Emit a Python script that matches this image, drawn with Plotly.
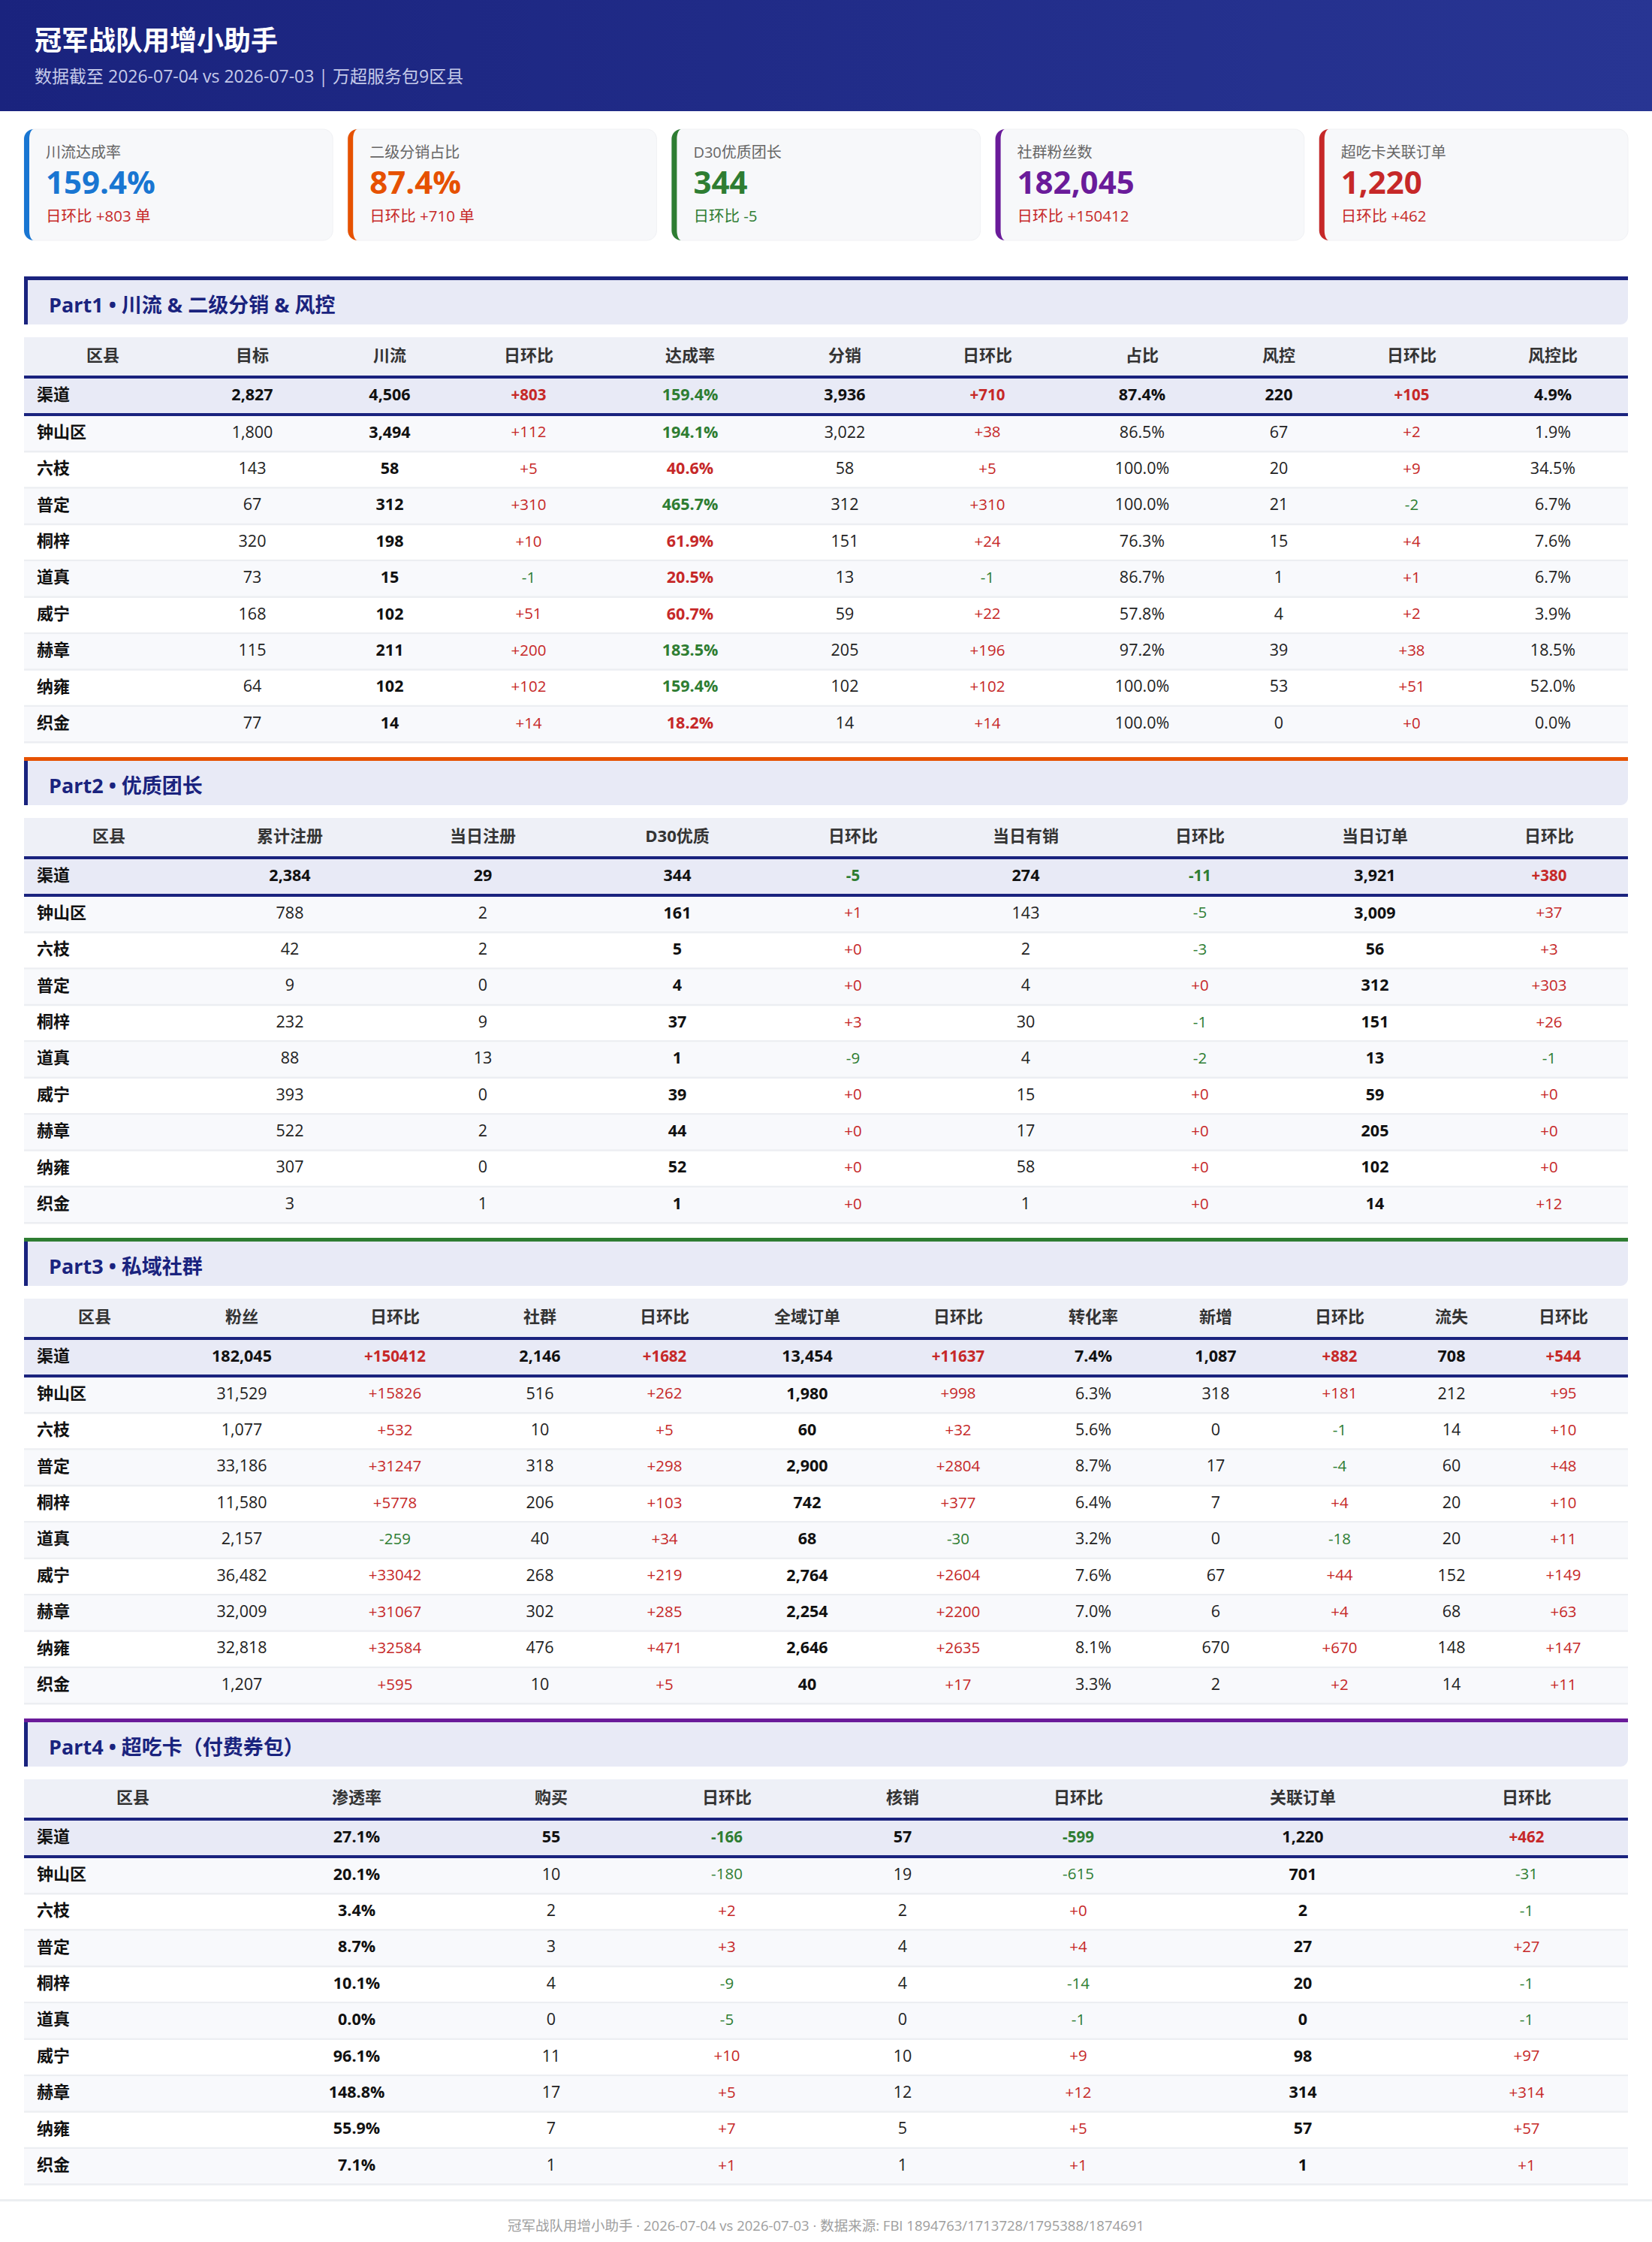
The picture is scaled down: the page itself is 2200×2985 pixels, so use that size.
import plotly.graph_objects as go

W, H = 2200, 2985

# ---------------- data ----------------
districts = ["钟山区", "六枝", "普定", "桐梓", "道真", "威宁", "赫章", "纳雍", "织金"]
total_label = "渠道"

# Part1
p1_target = [1800, 143, 67, 320, 73, 168, 115, 64, 77]
p1_target_total = 2827
p1_flow = [3494, 58, 312, 198, 15, 102, 211, 102, 14]
p1_flow_total = 4506
p1_flow_d = [112, 5, 310, 10, -1, 51, 200, 102, 14]
p1_flow_d_total = 803
p1_rate = [194.1, 40.6, 465.7, 61.9, 20.5, 60.7, 183.5, 159.4, 18.2]
p1_rate_total = 159.4
p1_dist = [3022, 58, 312, 151, 13, 59, 205, 102, 14]
p1_dist_total = 3936
p1_dist_d = [38, 5, 310, 24, -1, 22, 196, 102, 14]
p1_dist_d_total = 710
p1_share = [86.5, 100.0, 100.0, 76.3, 86.7, 57.8, 97.2, 100.0, 100.0]
p1_share_total = 87.4
p1_risk = [67, 20, 21, 15, 1, 4, 39, 53, 0]
p1_risk_total = 220
p1_risk_d = [2, 9, -2, 4, 1, 2, 38, 51, 0]
p1_risk_d_total = 105
p1_risk_ratio = [1.9, 34.5, 6.7, 7.6, 6.7, 3.9, 18.5, 52.0, 0.0]
p1_risk_ratio_total = 4.9

# Part2
p2_cum_reg = [788, 42, 9, 232, 88, 393, 522, 307, 3]
p2_cum_reg_total = 2384
p2_day_reg = [2, 2, 0, 9, 13, 0, 2, 0, 1]
p2_day_reg_total = 29
p2_d30 = [161, 5, 4, 37, 1, 39, 44, 52, 1]
p2_d30_total = 344
p2_d30_d = [1, 0, 0, 3, -9, 0, 0, 0, 0]
p2_d30_d_total = -5
p2_day_sale = [143, 2, 4, 30, 4, 15, 17, 58, 1]
p2_day_sale_total = 274
p2_day_sale_d = [-5, -3, 0, -1, -2, 0, 0, 0, 0]
p2_day_sale_d_total = -11
p2_orders = [3009, 56, 312, 151, 13, 59, 205, 102, 14]
p2_orders_total = 3921
p2_orders_d = [37, 3, 303, 26, -1, 0, 0, 0, 12]
p2_orders_d_total = 380

# Part3
p3_fans = [31529, 1077, 33186, 11580, 2157, 36482, 32009, 32818, 1207]
p3_fans_total = 182045
p3_fans_d = [15826, 532, 31247, 5778, -259, 33042, 31067, 32584, 595]
p3_fans_d_total = 150412
p3_groups = [516, 10, 318, 206, 40, 268, 302, 476, 10]
p3_groups_total = 2146
p3_groups_d = [262, 5, 298, 103, 34, 219, 285, 471, 5]
p3_groups_d_total = 1682
p3_orders = [1980, 60, 2900, 742, 68, 2764, 2254, 2646, 40]
p3_orders_total = 13454
p3_orders_d = [998, 32, 2804, 377, -30, 2604, 2200, 2635, 17]
p3_orders_d_total = 11637
p3_conv = [6.3, 5.6, 8.7, 6.4, 3.2, 7.6, 7.0, 8.1, 3.3]
p3_conv_total = 7.4
p3_new = [318, 0, 17, 7, 0, 67, 6, 670, 2]
p3_new_total = 1087
p3_new_d = [181, -1, -4, 4, -18, 44, 4, 670, 2]
p3_new_d_total = 882
p3_lost = [212, 14, 60, 20, 20, 152, 68, 148, 14]
p3_lost_total = 708
p3_lost_d = [95, 10, 48, 10, 11, 149, 63, 147, 11]
p3_lost_d_total = 544

# Part4
p4_pen = [20.1, 3.4, 8.7, 10.1, 0.0, 96.1, 148.8, 55.9, 7.1]
p4_pen_total = 27.1
p4_buy = [10, 2, 3, 4, 0, 11, 17, 7, 1]
p4_buy_total = 55
p4_buy_d = [-180, 2, 3, -9, -5, 10, 5, 7, 1]
p4_buy_d_total = -166
p4_redeem = [19, 2, 4, 4, 0, 10, 12, 5, 1]
p4_redeem_total = 57
p4_redeem_d = [-615, 0, 4, -14, -1, 9, 12, 5, 1]
p4_redeem_d_total = -599
p4_linked = [701, 2, 27, 20, 0, 98, 314, 57, 1]
p4_linked_total = 1220
p4_linked_d = [-31, -1, 27, -1, -1, 97, 314, 57, 1]
p4_linked_d_total = 462

kpi_labels = ["川流达成率", "二级分销占比", "D30优质团长", "社群粉丝数", "超吃卡关联订单"]

title_text = "冠军战队用增小助手"
subtitle_text = "数据截至 2026-07-04 vs 2026-07-03 | 万超服务包9区县"
footer_text = "冠军战队用增小助手 · 2026-07-04 vs 2026-07-03 · 数据来源: FBI 1894763/1713728/1795388/1874691"
section_titles = ["Part1 • 川流 & 二级分销 & 风控", "Part2 • 优质团长", "Part3 • 私域社群", "Part4 • 超吃卡（付费券包）"]

# ---------------- style ----------------
FONT = "Open Sans, Noto Sans CJK SC, sans-serif"
NAVY = "#1a237e"
RED = "#c62828"
GREEN = "#2e7d32"
TXT = "#222222"
HDR_TXT = "#333333"
kpi_colors = ["#1976d2", "#e65100", "#2e7d32", "#6a1b9a", "#c62828"]
section_colors = [NAVY, "#e65100", "#2e7d32", "#6a1b9a"]
section_y0 = [368, 1008, 1648, 2288]
TBL_X0, TBL_X1 = 32, 2168
ROW_H = 48.4


def fmt_int(v):
    return f"{v:,}"


def fmt_delta(v):
    return f"+{v}" if v >= 0 else f"{v}"


def fmt_pct(v):
    return f"{v:.1f}%"


def delta_color(v):
    return RED if v >= 0 else GREEN


def rate_color(v):
    return GREEN if v >= 100 else RED


def rpath(x0, y0, x1, y1, tl=0, tr=0, br=0, bl=0):
    k = 0.5523
    p = f"M {x0 + tl},{y0} L {x1 - tr},{y0} "
    if tr:
        p += f"C {x1 - tr + k * tr},{y0} {x1},{y0 + tr - k * tr} {x1},{y0 + tr} "
    p += f"L {x1},{y1 - br} "
    if br:
        p += f"C {x1},{y1 - br + k * br} {x1 - br + k * br},{y1} {x1 - br},{y1} "
    p += f"L {x0 + bl},{y1} "
    if bl:
        p += f"C {x0 + bl - k * bl},{y1} {x0},{y1 - bl + k * bl} {x0},{y1 - bl} "
    p += f"L {x0},{y0 + tl} "
    if tl:
        p += f"C {x0},{y0 + tl - k * tl} {x0 + tl - k * tl},{y0} {x0 + tl},{y0} "
    return p + "Z"


shapes = []
annotations = []
fig = go.Figure()


def rect(x0, y0, x1, y1, color):
    shapes.append(dict(type="rect", xref="x", yref="y", x0=x0, y0=y0, x1=x1, y1=y1,
                       fillcolor=color, line=dict(width=0), layer="below"))


def text_trace(xs, ys, texts, colors, sizes, pos="middle center"):
    fig.add_trace(go.Scatter(
        x=xs, y=ys, mode="text", text=texts, textposition=pos,
        textfont=dict(family=FONT, color=colors, size=sizes),
        hoverinfo="skip", showlegend=False, cliponaxis=False))


# ---------------- header ----------------
rect(0, 0, W, 148, "#212c8a")
fig.add_trace(go.Scatter(
    x=[0, W, W, 0, 0], y=[0, 0, 148, 148, 0], mode="lines", fill="toself",
    line=dict(width=0), fillcolor="#212c8a",
    fillgradient=dict(type="horizontal", colorscale=[[0, "#1a237e"], [1, "#283593"]]),
    hoverinfo="skip", showlegend=False))
text_trace([46], [58], [f"<b>{title_text}</b>"], ["white"], [36], "middle right")
text_trace([46], [104], [subtitle_text], ["#c5cae9"], [23], "middle right")

# ---------------- KPI cards ----------------
kpi_values = [fmt_pct(p1_rate_total), fmt_pct(p1_share_total), fmt_int(p2_d30_total),
              fmt_int(p3_fans_total), fmt_int(p4_linked_total)]
kpi_deltas = [p1_flow_d_total, p1_dist_d_total, p2_d30_d_total, p3_fans_d_total, p4_linked_d_total]
kpi_units = [" 单", " 单", "", "", ""]
gap = 20
card_w = (TBL_X1 - TBL_X0 - 4 * gap) / 5
cy0, cy1 = 172, 320
r = 13
bw = 7
for i in range(5):
    x0 = TBL_X0 + i * (card_w + gap)
    x1 = x0 + card_w
    shapes.append(dict(type="path", xref="x", yref="y", path=rpath(x0, cy0, x1, cy1, r, r, r, r),
                       fillcolor="#f7f8fa", line=dict(width=1, color="#f0f1f4"), layer="below"))
    k = 0.5523
    crescent = (f"M {x0 + r},{cy0} C {x0 + r - k * r},{cy0} {x0},{cy0 + r - k * r} {x0},{cy0 + r} "
                f"L {x0},{cy1 - r} C {x0},{cy1 - r + k * r} {x0 + r - k * r},{cy1} {x0 + r},{cy1} "
                f"C {x0 + bw + (r - bw) * (1 - k)},{cy1} {x0 + bw},{cy1 - r * (1 - k)} {x0 + bw},{cy1 - r} "
                f"L {x0 + bw},{cy0 + r} C {x0 + bw},{cy0 + r * (1 - k)} {x0 + bw + (r - bw) * (1 - k)},{cy0} {x0 + r},{cy0} Z")
    shapes.append(dict(type="path", xref="x", yref="y", path=crescent,
                       fillcolor=kpi_colors[i], line=dict(width=0), layer="below"))

kx = [TBL_X0 + i * (card_w + gap) + 29 for i in range(5)]
text_trace(kx, [205] * 5, kpi_labels, ["#666666"] * 5, [20] * 5, "middle right")
text_trace(kx, [247] * 5, [f"<b>{v}</b>" for v in kpi_values], kpi_colors, [42] * 5, "middle right")
text_trace(kx, [289.5] * 5, [f"日环比 {fmt_delta(d)}{u}" for d, u in zip(kpi_deltas, kpi_units)],
           [delta_color(d) for d in kpi_deltas], [20.5] * 5, "middle right")

# ---------------- tables ----------------
tables = [
    dict(headers=["区县", "目标", "川流", "日环比", "达成率", "分销", "日环比", "占比", "风控", "日环比", "风控比"],
         xs=[137, 336, 519, 704, 919, 1125, 1315, 1521, 1703, 1880, 2068],
         cols=[("int", p1_target, p1_target_total), ("bint", p1_flow, p1_flow_total),
               ("delta", p1_flow_d, p1_flow_d_total), ("rate", p1_rate, p1_rate_total),
               ("int", p1_dist, p1_dist_total), ("delta", p1_dist_d, p1_dist_d_total),
               ("pct", p1_share, p1_share_total), ("int", p1_risk, p1_risk_total),
               ("delta", p1_risk_d, p1_risk_d_total), ("pct", p1_risk_ratio, p1_risk_ratio_total)]),
    dict(headers=["区县", "累计注册", "当日注册", "D30优质", "日环比", "当日有销", "日环比", "当日订单", "日环比"],
         xs=[145, 386, 643, 902, 1136, 1366, 1598, 1831, 2063],
         cols=[("int", p2_cum_reg, p2_cum_reg_total), ("int", p2_day_reg, p2_day_reg_total),
               ("bint", p2_d30, p2_d30_total), ("delta", p2_d30_d, p2_d30_d_total),
               ("int", p2_day_sale, p2_day_sale_total), ("delta", p2_day_sale_d, p2_day_sale_d_total),
               ("bint", p2_orders, p2_orders_total), ("delta", p2_orders_d, p2_orders_d_total)]),
    dict(headers=["区县", "粉丝", "日环比", "社群", "日环比", "全域订单", "日环比", "转化率", "新增", "日环比", "流失", "日环比"],
         xs=[126, 322, 526, 719, 885, 1075, 1276, 1456, 1619, 1784, 1933, 2082],
         cols=[("int", p3_fans, p3_fans_total), ("delta", p3_fans_d, p3_fans_d_total),
               ("int", p3_groups, p3_groups_total), ("delta", p3_groups_d, p3_groups_d_total),
               ("bint", p3_orders, p3_orders_total), ("delta", p3_orders_d, p3_orders_d_total),
               ("pct", p3_conv, p3_conv_total), ("int", p3_new, p3_new_total),
               ("delta", p3_new_d, p3_new_d_total), ("int", p3_lost, p3_lost_total),
               ("delta", p3_lost_d, p3_lost_d_total)]),
    dict(headers=["区县", "渗透率", "购买", "日环比", "核销", "日环比", "关联订单", "日环比"],
         xs=[177, 475, 734, 968, 1202, 1436, 1735, 2033],
         cols=[("bpct", p4_pen, p4_pen_total), ("int", p4_buy, p4_buy_total),
               ("delta", p4_buy_d, p4_buy_d_total), ("int", p4_redeem, p4_redeem_total),
               ("delta", p4_redeem_d, p4_redeem_d_total), ("bint", p4_linked, p4_linked_total),
               ("delta", p4_linked_d, p4_linked_d_total)]),
]

SZ = 22
SZ_N = 21.5
SZ_D = 20.5

for t_i, tbl in enumerate(tables):
    y0 = section_y0[t_i]
    # section header
    rect(TBL_X0, y0, TBL_X1, y0 + 5, section_colors[t_i])
    shapes.append(dict(type="path", xref="x", yref="y",
                       path=rpath(TBL_X0, y0 + 5, TBL_X1, y0 + 64, 0, 0, 10, 0),
                       fillcolor="#e8eaf6", line=dict(width=0), layer="below"))
    rect(TBL_X0, y0 + 5, TBL_X0 + 5, y0 + 64, NAVY)
    annotations.append(dict(x=63, y=y0 + 37, xref="x", yref="y", text=f"<b>{section_titles[t_i]}</b>",
                            showarrow=False, xanchor="left", yanchor="middle",
                            font=dict(family=FONT, size=27, color=NAVY)))
    # table backgrounds
    rect(TBL_X0, y0 + 81, TBL_X1, y0 + 132, "#eef0f7")
    rect(TBL_X0, y0 + 132, TBL_X1, y0 + 136, NAVY)
    rect(TBL_X0, y0 + 136, TBL_X1, y0 + 182, "#e8eaf6")
    rect(TBL_X0, y0 + 182, TBL_X1, y0 + 186, NAVY)
    row_top = y0 + 186
    for i in range(len(districts)):
        ya = row_top + ROW_H * i
        yb = ya + ROW_H
        if i % 2 == 0:
            rect(TBL_X0, ya, TBL_X1, yb - 2.5, "#f8f9fc")
        rect(TBL_X0, yb - 2.5, TBL_X1, yb, "#eceef2")

    y_hdr = y0 + 107
    y_tot = y0 + 159.5
    y_rows = [row_top + ROW_H * i + ROW_H / 2 - 1 for i in range(len(districts))]
    ys = [y_tot] + y_rows

    # header labels
    text_trace(tbl["xs"], [y_hdr] * len(tbl["xs"]), [f"<b>{h}</b>" for h in tbl["headers"]],
               [HDR_TXT] * len(tbl["xs"]), [SZ] * len(tbl["xs"]))
    # district names
    text_trace([49] * 10, ys, [f"<b>{n}</b>" for n in [total_label] + districts],
               ["#111111"] * 10, [SZ] * 10, "middle right")
    # data columns
    for (kind, vals, tot), cx in zip(tbl["cols"], tbl["xs"][1:]):
        allv = [tot] + vals
        texts, colors, sizes = [], [], []
        for j, v in enumerate(allv):
            is_tot = j == 0
            if kind in ("int", "bint"):
                s = fmt_int(v)
                b = is_tot or kind == "bint"
                c = "#111111" if b else TXT
                sz = SZ_N
            elif kind == "delta":
                s = fmt_delta(v)
                c = delta_color(v)
                b = is_tot
                sz = SZ_D
            elif kind == "rate":
                s = fmt_pct(v)
                c = rate_color(v)
                b = True
                sz = SZ_N
            else:  # pct / bpct
                s = fmt_pct(v)
                b = is_tot or kind == "bpct"
                c = "#111111" if b else TXT
                sz = SZ_N
            texts.append(f"<b>{s}</b>" if b else s)
            colors.append(c)
            sizes.append(sz)
        text_trace([cx] * 10, ys, texts, colors, sizes)

# ---------------- footer ----------------
rect(0, 2928, W, 2931, "#eceef1")
annotations.append(dict(x=W / 2, y=2962, xref="x", yref="y", text=footer_text,
                        showarrow=False, xanchor="center", yanchor="middle",
                        font=dict(family=FONT, size=18.5, color="#9e9e9e")))

fig.update_layout(
    width=W, height=H,
    margin=dict(l=0, r=0, t=0, b=0),
    paper_bgcolor="white", plot_bgcolor="white",
    xaxis=dict(range=[0, W], visible=False, fixedrange=True),
    yaxis=dict(range=[H, 0], visible=False, fixedrange=True),
    shapes=shapes, annotations=annotations,
    font=dict(family=FONT),
    showlegend=False,
)

fig.write_html("out.html", config={"displayModeBar": False, "staticPlot": True},
               post_script="document.body.style.margin='0';document.body.style.overflow='hidden';")
